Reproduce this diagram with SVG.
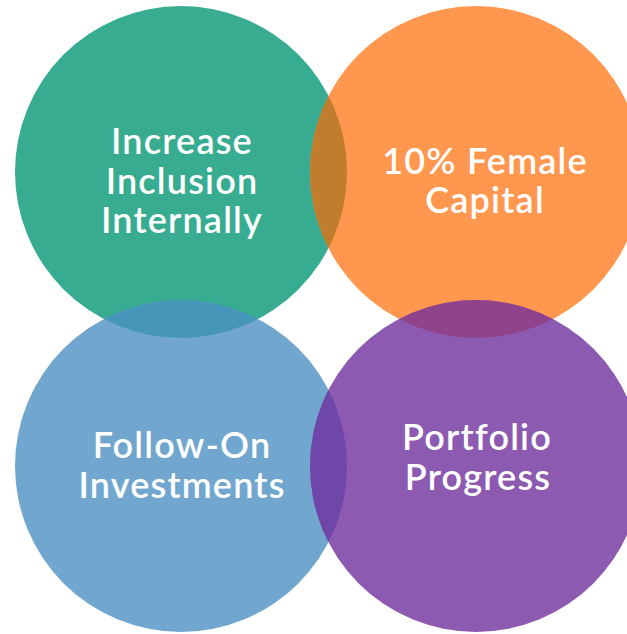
<svg xmlns="http://www.w3.org/2000/svg" width="627" height="634" viewBox="0 0 627 634">
<style>
.lbl{font-family:Lato,"Noto Sans",sans-serif;font-weight:600;font-size:36px;letter-spacing:1.2px;fill:#ffffff;text-anchor:middle}
</style>
<defs>
<clipPath id="cTL"><circle cx="181" cy="172" r="166"/></clipPath>
<clipPath id="cTR"><circle cx="476" cy="172" r="166"/></clipPath>
<clipPath id="cBL"><circle cx="181" cy="466" r="166"/></clipPath>
</defs>
<rect width="627" height="634" fill="#ffffff"/>
<g id="node-inclusion"><circle cx="181" cy="172" r="166" fill="#37AC91"/></g>
<g id="node-female"><circle cx="476" cy="172" r="166" fill="#FF974F"/></g>
<g id="node-followon"><circle cx="181" cy="466" r="166" fill="#71A7CE"/></g>
<g id="node-portfolio"><circle cx="476" cy="466" r="166" fill="#8C5AB1"/></g>
<g id="overlaps">
<circle cx="476" cy="172" r="166" fill="#C07D2E" clip-path="url(#cTL)"/>
<circle cx="181" cy="466" r="166" fill="#4596B8" clip-path="url(#cTL)"/>
<circle cx="476" cy="466" r="166" fill="#8E438A" clip-path="url(#cTR)"/>
<circle cx="476" cy="466" r="166" fill="#6E47A8" clip-path="url(#cBL)"/>
</g>
<g id="labels">
<text class="lbl" x="182" y="154">Increase</text>
<text class="lbl" x="182" y="194">Inclusion</text>
<text class="lbl" x="182" y="233">Internally</text>
<text class="lbl" x="485" y="174">10% Female</text>
<text class="lbl" x="485" y="213">Capital</text>
<text class="lbl" x="182" y="458">Follow-On</text>
<text class="lbl" x="182" y="498">Investments</text>
<text class="lbl" x="477" y="450">Portfolio</text>
<text class="lbl" x="478" y="490">Progress</text>
</g>
</svg>
